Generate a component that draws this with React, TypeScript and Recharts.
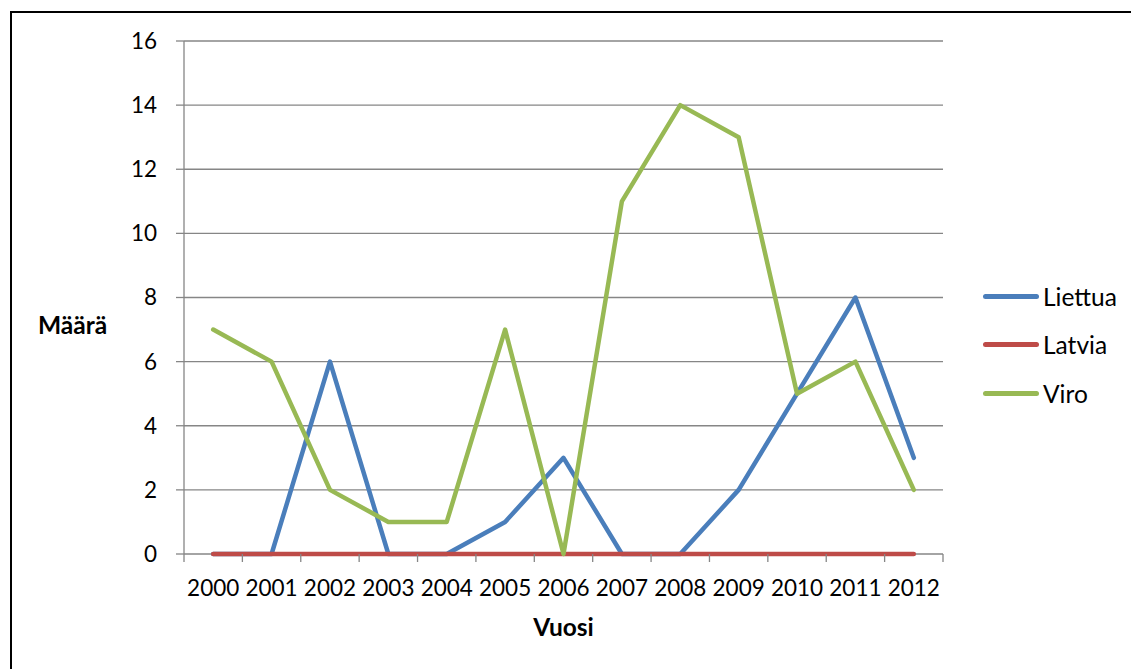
import React from 'react';
import { LineChart, Line, XAxis, YAxis, CartesianGrid, Legend, Label } from 'recharts';

const years = ['2000', '2001', '2002', '2003', '2004', '2005', '2006', '2007', '2008', '2009', '2010', '2011', '2012'];
const liettua = [0, 0, 6, 0, 0, 1, 3, 0, 0, 2, 5, 8, 3];
const latvia = [0, 0, 0, 0, 0, 0, 0, 0, 0, 0, 0, 0, 0];
const viro = [7, 6, 2, 1, 1, 7, 0, 11, 14, 13, 5, 6, 2];
const yTicks = [0, 2, 4, 6, 8, 10, 12, 14, 16];

const series = [
  { key: 'Liettua', color: '#4A7EBB' },
  { key: 'Latvia', color: '#BE4B48' },
  { key: 'Viro', color: '#98B954' },
];

const data = years.map((year, i) => ({
  year,
  Liettua: liettua[i],
  Latvia: latvia[i],
  Viro: viro[i],
}));

const W = 1131;
const H = 669;
const PLOT_LEFT = 184;
const PLOT_RIGHT = 943;
const PLOT_TOP = 41;
const PLOT_BOTTOM = 554;
const STEP = (PLOT_RIGHT - PLOT_LEFT) / years.length;
const AXIS = '#868686';
const FONT = 'Lato, "Open Sans", sans-serif';

const YearTick = (props: any) => {
  const { x, y, payload, index } = props;
  const half = STEP / 2;
  return (
    <g>
      <line x1={x - half} y1={y} x2={x - half} y2={y + 8} stroke={AXIS} strokeWidth={1.3} />
      {index === years.length - 1 && (
        <line x1={x + half} y1={y} x2={x + half} y2={y + 8} stroke={AXIS} strokeWidth={1.3} />
      )}
      <text x={x} y={y + 42} textAnchor="middle" fill="#000" fontSize={22.5} fontFamily={FONT}>
        {payload.value}
      </text>
    </g>
  );
};

const LegendBox = () => (
  <div style={{ fontFamily: FONT, fontSize: 24.5, color: '#000' }}>
    {series.map(s => (
      <div key={s.key} style={{ height: 48.5, display: 'flex', alignItems: 'center' }}>
        <div style={{ width: 56, height: 5, borderRadius: 3, background: s.color, marginRight: 4 }} />
        <span>{s.key}</span>
      </div>
    ))}
  </div>
);

export default function App() {
  return (
    <div
      style={{
        position: 'absolute',
        left: 0,
        top: 0,
        width: W,
        height: H,
        overflow: 'hidden',
        background: '#fff',
        fontFamily: FONT,
      }}
    >
      <div
        style={{
          position: 'absolute',
          left: 10,
          top: 11,
          width: W + 50,
          height: H + 50,
          borderLeft: '2px solid #000',
          borderTop: '2px solid #000',
        }}
      />
      <LineChart
        width={W}
        height={H}
        data={data}
        margin={{ top: PLOT_TOP, right: W - PLOT_RIGHT, bottom: 0, left: 0 }}
        style={{ position: 'absolute', left: 0, top: 0 }}
      >
        <CartesianGrid horizontal vertical={false} stroke={AXIS} strokeWidth={1.3} />
        <XAxis
          dataKey="year"
          scale="band"
          height={H - PLOT_BOTTOM}
          axisLine={false}
          tickLine={false}
          tickSize={0}
          tickMargin={0}
          interval={0}
          tick={<YearTick />}
        >
          <Label
            content={(p: any) => {
              const vb = p.viewBox;
              return (
                <text
                  x={vb.x + vb.width / 2}
                  y={vb.y + 82}
                  textAnchor="middle"
                  fontWeight="bold"
                  fontSize={24.5}
                  fontFamily={FONT}
                  fill="#000"
                >
                  Vuosi
                </text>
              );
            }}
          />
        </XAxis>
        <YAxis
          width={PLOT_LEFT}
          domain={[0, 16]}
          ticks={yTicks}
          interval={0}
          stroke={AXIS}
          strokeWidth={1.3}
          tickSize={8}
          tickMargin={19}
          tick={{ fill: '#000', fontSize: 22.5, fontFamily: FONT }}
        >
          <Label
            content={(p: any) => {
              const vb = p.viewBox;
              return (
                <text
                  x={vb.x + 38}
                  y={vb.y + vb.height / 2 + 36}
                  textAnchor="start"
                  fontWeight="bold"
                  fontSize={24.5}
                  fontFamily={FONT}
                  fill="#000"
                >
                  Määrä
                </text>
              );
            }}
          />
        </YAxis>
        <Legend
          layout="vertical"
          align="center"
          verticalAlign="middle"
          content={<LegendBox />}
          wrapperStyle={{ position: 'absolute', left: 983, top: 272, width: 148 }}
        />
        {series.map(s => (
          <Line
            key={s.key}
            type="linear"
            dataKey={s.key}
            stroke={s.color}
            strokeWidth={4.5}
            strokeLinecap="round"
            strokeLinejoin="round"
            dot={false}
            activeDot={false}
            isAnimationActive={false}
          />
        ))}
      </LineChart>
    </div>
  );
}
